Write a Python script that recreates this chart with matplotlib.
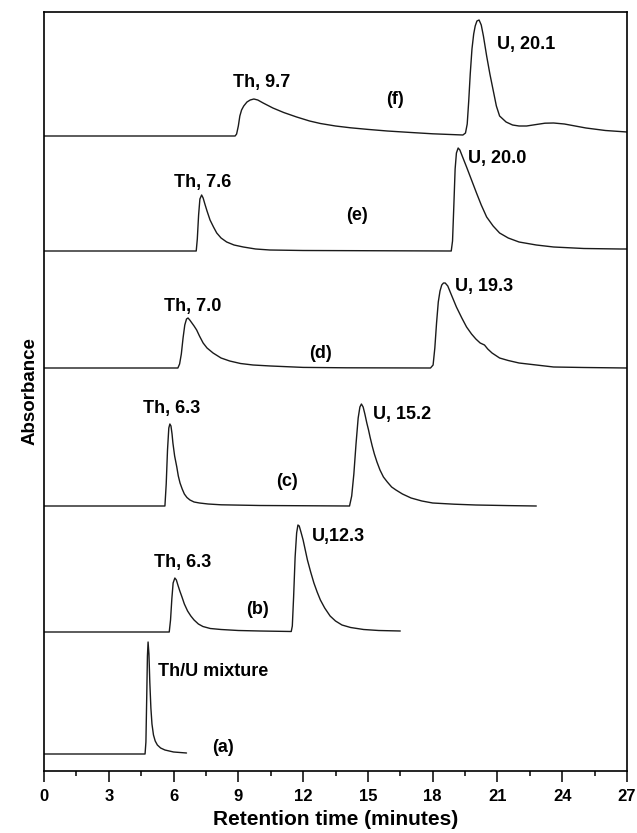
import matplotlib
matplotlib.use("Agg")
import matplotlib.pyplot as plt
from matplotlib.ticker import MultipleLocator

plt.rcParams['font.family'] = ['Liberation Sans', 'DejaVu Sans']
plt.rcParams['font.weight'] = 'bold'

# Chromatograms: retention time (min) and absorbance above each trace's baseline (a.u.)
t_a = [0, 4.68, 4.72, 4.76, 4.79, 4.82, 4.86, 4.9, 4.95, 5.0, 5.07, 5.15, 5.25, 5.4, 5.6, 6.0, 6.6]
h_a = [0, 0, 0.12, 0.6, 0.98, 1.12, 1.0, 0.72, 0.46, 0.3, 0.19, 0.13, 0.09, 0.06, 0.04, 0.02, 0.01]

t_b = [0, 5.8, 5.86, 5.92, 5.98, 6.06, 6.13, 6.2, 6.29, 6.39, 6.5, 6.65, 6.8, 6.95, 7.15, 7.36,
       7.7, 8.2, 9.0, 10.0, 11.45,
       11.5, 11.56, 11.63, 11.7, 11.76, 11.82, 11.9, 12.0, 12.1, 12.2, 12.35, 12.5, 12.65, 12.8,
       13.0, 13.25, 13.5, 13.8, 14.2, 14.8, 15.5, 16.5]
h_b = [0, 0, 0.12, 0.33, 0.49, 0.54, 0.52, 0.47, 0.41, 0.35, 0.28, 0.21, 0.16, 0.12, 0.08, 0.055,
       0.035, 0.025, 0.015, 0.01, 0.005,
       0.06, 0.35, 0.75, 0.99, 1.07, 1.06, 1.0, 0.92, 0.82, 0.72, 0.6, 0.49, 0.4, 0.32,
       0.24, 0.16, 0.11, 0.07, 0.045, 0.025, 0.015, 0.01]

t_c = [0, 5.6, 5.66, 5.72, 5.78, 5.83, 5.88, 5.93, 5.97, 6.05, 6.15, 6.22, 6.3, 6.4, 6.5, 6.62,
       6.76, 6.95, 7.2, 7.6, 8.2, 10.0, 14.15,
       14.25, 14.35, 14.45, 14.55, 14.63, 14.7, 14.78, 14.86, 14.95, 15.03, 15.1, 15.2, 15.3,
       15.42, 15.56, 15.72, 15.9, 16.1, 16.3, 16.6, 17.0, 17.5, 18.0, 19.0, 20.0, 21.5, 22.8]
h_c = [0, 0, 0.22, 0.56, 0.78, 0.82, 0.8, 0.72, 0.63, 0.5, 0.39, 0.3, 0.23, 0.17, 0.12, 0.085,
       0.06, 0.04, 0.03, 0.02, 0.012, 0.005, 0.0,
       0.1, 0.32, 0.62, 0.88, 0.99, 1.02, 0.99, 0.92, 0.83, 0.76, 0.69, 0.6, 0.52,
       0.44, 0.36, 0.29, 0.24, 0.19, 0.16, 0.12, 0.08, 0.05, 0.03, 0.018, 0.01, 0.004, 0.0]

t_d = [0, 6.2, 6.28, 6.36, 6.44, 6.52, 6.6, 6.67, 6.75, 6.85, 6.95, 7.07, 7.2, 7.37, 7.55,
       7.83, 8.2, 8.6, 9.1, 9.68, 10.5, 12.0, 14.0, 17.9,
       18.02, 18.1, 18.18, 18.26, 18.34, 18.42, 18.5, 18.58, 18.7, 18.85, 19.1, 19.35, 19.57,
       19.8, 20.0, 20.2, 20.3, 20.4, 20.55, 20.75, 21.1, 21.5, 22.0, 22.8, 23.6, 25.0, 27.0]
h_d = [0, 0, 0.04, 0.14, 0.3, 0.43, 0.49, 0.5, 0.48, 0.45, 0.42, 0.38, 0.32, 0.25, 0.2,
       0.15, 0.1, 0.07, 0.045, 0.03, 0.02, 0.006, 0.002, 0.0,
       0.03, 0.2, 0.45, 0.66, 0.77, 0.83, 0.85, 0.85, 0.82, 0.74, 0.61, 0.5, 0.41,
       0.34, 0.29, 0.25, 0.24, 0.23, 0.19, 0.15, 0.1, 0.075, 0.05, 0.03, 0.01, 0.005, 0.0]

t_e = [0, 7.05, 7.1, 7.16, 7.22, 7.3, 7.37, 7.45, 7.55, 7.69, 7.85, 8.0, 8.2, 8.46, 8.8,
       9.23, 9.8, 10.46, 12.0, 18.86,
       18.92, 18.98, 19.04, 19.1, 19.18, 19.26, 19.35, 19.46, 19.57, 19.8, 20.03, 20.25, 20.5,
       20.8, 21.1, 21.5, 22.0, 22.8, 23.6, 25.0, 26.7, 27.0]
h_e = [0, 0, 0.12, 0.36, 0.52, 0.56, 0.53, 0.47, 0.4, 0.31, 0.24, 0.18, 0.13, 0.09, 0.06,
       0.04, 0.02, 0.01, 0.005, 0.0,
       0.1, 0.45, 0.82, 0.98, 1.03, 1.01, 0.96, 0.9, 0.84, 0.71, 0.58, 0.46, 0.34,
       0.25, 0.18, 0.13, 0.09, 0.06, 0.04, 0.025, 0.02, 0.02]

t_f = [0, 8.85, 8.92, 9.0, 9.07, 9.15, 9.25, 9.4, 9.55, 9.72, 9.9, 10.15, 10.6, 11.1, 11.7,
       12.3, 12.8, 13.5, 14.2, 15.0, 15.9, 17.0, 18.0, 19.4,
       19.52, 19.6, 19.67, 19.74, 19.82, 19.9, 19.97, 20.05, 20.15, 20.25, 20.35, 20.5, 20.65,
       20.8, 20.95, 21.1, 21.4, 21.7, 22.0, 22.35, 22.8, 23.2, 23.6, 24.1, 24.6, 25.1, 26.0, 27.0]
h_f = [0, 0, 0.02, 0.1, 0.2, 0.26, 0.3, 0.34, 0.36, 0.37, 0.36, 0.33, 0.28, 0.235, 0.19,
       0.15, 0.125, 0.1, 0.082, 0.066, 0.05, 0.035, 0.022, 0.01,
       0.03, 0.12, 0.35, 0.62, 0.87, 1.02, 1.1, 1.15, 1.16, 1.11, 1.0, 0.8, 0.62,
       0.46, 0.3, 0.2, 0.14, 0.11, 0.1, 0.1, 0.115, 0.128, 0.13, 0.12, 0.1, 0.08, 0.055, 0.04]

# Vertical stacking offsets of the six runs
offsets = [0.17, 1.39, 2.65, 4.03, 5.20, 6.35]

# Annotations: (text, time, absorbance, horizontal alignment)
labels = [
    ("Th/U mixture", 5.28, 0.99, "left"), ("(a)", 8.3, 0.24, "center"),
    ("Th, 6.3", 6.4, 2.09, "center"), ("(b)", 9.9, 1.61, "center"), ("U,12.3", 12.4, 2.34, "left"),
    ("Th, 6.3", 5.9, 3.63, "center"), ("(c)", 11.25, 2.89, "center"), ("U, 15.2", 15.23, 3.56, "left"),
    ("Th, 7.0", 6.9, 4.65, "center"), ("(d)", 12.8, 4.17, "center"), ("U, 19.3", 19.03, 4.84, "left"),
    ("Th, 7.6", 7.35, 5.89, "center"), ("(e)", 14.5, 5.55, "center"), ("U, 20.0", 19.63, 6.12, "left"),
    ("Th, 9.7", 10.1, 6.89, "center"), ("(f)", 16.25, 6.71, "center"), ("U, 20.1", 20.97, 7.27, "left"),
]

x_ticks = [0, 3, 6, 9, 12, 15, 18, 21, 24, 27]

fig = plt.figure(figsize=(6.37, 8.33), dpi=100)
ax = fig.add_axes([44 / 637, 62 / 833, 583 / 637, 759 / 833])

traces = [(t_a, h_a), (t_b, h_b), (t_c, h_c), (t_d, h_d), (t_e, h_e), (t_f, h_f)]
for (t, h), off in zip(traces, offsets):
    ax.plot(t, [v + off for v in h], color="#1a1a1a", lw=1.0,
            solid_joinstyle="round", solid_capstyle="round")

for text, x, y, ha in labels:
    ax.text(x, y, text, ha=ha, va="center", fontsize=13, fontweight="bold")

ax.set_xlim(0, 27)
ax.set_ylim(0, 7.59)
ax.set_xticks(x_ticks)
ax.set_xticklabels([str(v) for v in x_ticks])
ax.xaxis.set_minor_locator(MultipleLocator(1.5))
ax.set_yticks([])
ax.tick_params(axis="x", which="major", direction="out", length=8, width=1.1,
               labelsize=12, pad=5)
ax.tick_params(axis="x", which="minor", direction="out", length=3.6, width=1.1)
for lbl in ax.get_xticklabels():
    lbl.set_fontweight("bold")
for sp in ax.spines.values():
    sp.set_linewidth(1.2)

ax.set_xlabel("Retention time (minutes)", fontsize=15, fontweight="bold", labelpad=4)
ax.set_ylabel("Absorbance", fontsize=13.5, fontweight="bold", labelpad=4)

fig.savefig("out.png", dpi=100)
